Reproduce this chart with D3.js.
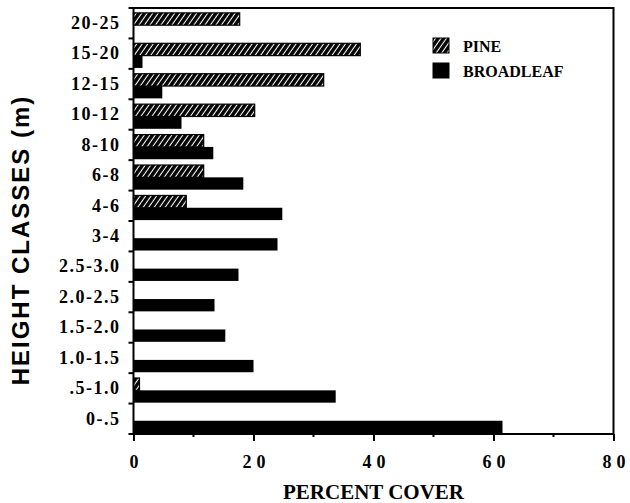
<!DOCTYPE html>
<html>
<head>
<meta charset="utf-8">
<script src="https://cdn.jsdelivr.net/npm/d3@7"></script>
<style>
	body { margin: 0; background: #fff; }
	svg { display: block; }
</style>
</head>
<body>
<div id="chart"></div>
<script>
// height classes, top to bottom
let categories = ['20-25', '15-20', '12-15', '10-12', '8-10', '6-8', '4-6', '3-4',
	'2.5-3.0', '2.0-2.5', '1.5-2.0', '1.0-1.5', '.5-1.0', '0-.5'];
// percent cover
let pine = [17.7, 37.8, 31.7, 20.2, 11.7, 11.7, 8.8, 0, 0, 0, 0, 0, 1.0, 0];
let broadleaf = [0, 1.5, 4.8, 8.0, 13.3, 18.3, 24.8, 24.0, 17.5, 13.5, 15.3, 20.0, 33.7, 61.5];
let seriesNames = ['PINE', 'BROADLEAF'];
let xTicks = [0, 20, 40, 60, 80];
let xMinorTicks = [10, 30, 50, 70];

let svgWidth = 630
let svgHeight = 503
let padding = {
	'left': 133.5,
	'right': 15,
	'top': 8,
	'bottom': 69
}

let svg = d3.select('#chart').append('svg')
	.attr('width', svgWidth)
	.attr('height', svgHeight)

let defs = svg.append('defs')
let pat = defs.append('pattern')
	.attr('id', 'hatch')
	.attr('patternUnits', 'userSpaceOnUse')
	.attr('width', 4.5)
	.attr('height', 4.5)
	.attr('patternTransform', 'rotate(35)')
pat.append('rect')
	.attr('width', 4.5)
	.attr('height', 4.5)
	.attr('fill', 'black')
pat.append('line')
	.attr('x1', 2.2).attr('y1', 0)
	.attr('x2', 2.2).attr('y2', 4.5)
	.attr('stroke', 'white')
	.attr('stroke-width', 1.1)

let x = d3.scaleLinear()
	.domain([0, 80])
	.range([padding.left, svgWidth - padding.right - 1.5]);

let y = d3.scaleBand()
	.domain(categories)
	.range([padding.top, svgHeight - padding.bottom]);

let inner = d3.scaleBand()
	.domain(seriesNames)
	.range([y.bandwidth() * 0.16, y.bandwidth() * 0.97]);

let data = categories.map((c, i) => ({ cat: c, PINE: pine[i], BROADLEAF: broadleaf[i] }));

// bars
let body = svg.append('g').classed('body', true)
seriesNames.forEach(s => {
	body.selectAll('.bar-' + s)
		.data(data.filter(d => d[s] > 0))
		.enter()
		.append('rect')
		.attr('class', 'bar-' + s)
		.attr('x', x(0))
		.attr('y', d => y(d.cat) + inner(s))
		.attr('width', d => x(d[s]) - x(0))
		.attr('height', inner.bandwidth())
		.attr('fill', s == 'PINE' ? 'url(#hatch)' : 'black')
		.attr('stroke', 'black')
		.attr('stroke-width', s == 'PINE' ? 1.2 : 0)
})

// frame
svg.append('rect')
	.attr('x', x(0))
	.attr('y', padding.top)
	.attr('width', x(80) - x(0))
	.attr('height', svgHeight - padding.bottom - padding.top)
	.attr('fill', 'none')
	.attr('stroke', 'black')
	.attr('stroke-width', 2)

// y axis: ticks at band boundaries, labels centered in bands
let axis_y = d3.axisLeft()
	.scale(y)
	.tickSize(0)
	.tickPadding(13)
let gy = svg.append('g')
	.classed('y-axis', true)
	.attr('transform', `translate(${x(0)}, 0)`)
	.call(axis_y)
gy.select('.domain').remove()
gy.selectAll('text')
	.style('font-family', '"Liberation Serif", serif')
	.style('font-size', '18px')
	.style('font-weight', 'bold')
	.style('letter-spacing', '1.5px')
	.attr('fill', 'black')

let boundaries = categories.map(c => y(c)).concat([y.range()[1]])
gy.selectAll('.bound')
	.data(boundaries)
	.enter()
	.append('line')
	.attr('x1', -5).attr('x2', 0)
	.attr('y1', d => d).attr('y2', d => d)
	.attr('stroke', 'black')
	.attr('stroke-width', 2)

// x axis
let axis_x = d3.axisBottom()
	.scale(x)
	.tickValues(xTicks)
	.tickSize(7)
	.tickPadding(14)
	.tickFormat(d => d);
let gx = svg.append('g')
	.classed('x-axis', true)
	.attr('transform', `translate(0, ${svgHeight - padding.bottom})`)
	.call(axis_x)
gx.select('.domain').remove()
gx.selectAll('line').attr('stroke-width', 2)
gx.selectAll('text')
	.style('font-family', '"Liberation Serif", serif')
	.style('font-size', '18px')
	.style('font-weight', 'bold')
	.style('letter-spacing', '5px')
	.attr('dx', '2.5px')
	.attr('fill', 'black')

gx.selectAll('.minor')
	.data(xMinorTicks)
	.enter()
	.append('line')
	.attr('x1', d => x(d)).attr('x2', d => x(d))
	.attr('y1', 0).attr('y2', 3)
	.attr('stroke', 'black')
	.attr('stroke-width', 2)

// axis titles
svg.append('text')
	.attr('x', (x(0) + x(80)) / 2)
	.attr('y', 499)
	.attr('text-anchor', 'middle')
	.attr('fill', 'black')
	.attr('font-size', '21px')
	.attr('font-weight', 'bold')
	.attr('font-family', '"Liberation Serif", serif')
	.text('PERCENT COVER');

svg.append('text')
	.attr('transform', 'translate(29, 240) rotate(-90)')
	.attr('text-anchor', 'middle')
	.attr('fill', 'black')
	.attr('font-size', '24px')
	.attr('font-weight', 'bold')
	.attr('letter-spacing', '2px')
	.attr('font-family', '"Liberation Sans", Arial, sans-serif')
	.text('HEIGHT CLASSES (m)');

// legend
let legend = svg.selectAll('.legend')
	.data(seriesNames)
	.enter()
	.append('g')
	.attr('class', 'legend')
	.attr('transform', (d, i) => `translate(433, ${38 + i * 25})`)

legend.append('rect')
	.attr('x', 0)
	.attr('y', 0)
	.attr('width', 16)
	.attr('height', 15)
	.attr('fill', d => d == 'PINE' ? 'url(#hatch)' : 'black')
	.attr('stroke', 'black')
	.attr('stroke-width', 1)

legend.append('text')
	.attr('x', 30)
	.attr('y', 14)
	.attr('fill', 'black')
	.attr('font-size', '16px')
	.attr('font-weight', 'bold')
	.attr('font-family', '"Liberation Serif", serif')
	.text(d => d);
</script>
</body>
</html>
